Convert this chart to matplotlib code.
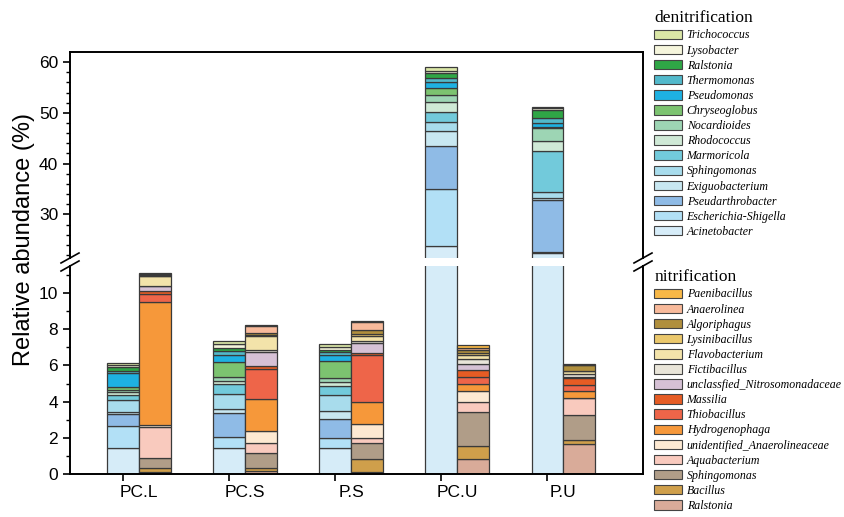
import numpy as np
import matplotlib
matplotlib.use('Agg')
import matplotlib.pyplot as plt
from matplotlib.patches import Patch

plt.rcParams['font.family'] = ['Liberation Sans', 'DejaVu Sans']

groups = ['PC.L', 'PC.S', 'P.S', 'PC.U', 'P.U']

# denitrification genera, bottom of the stack first
denit_names = ['Acinetobacter', 'Escherichia-Shigella', 'Pseudarthrobacter',
               'Exiguobacterium', 'Sphingomonas', 'Marmoricola', 'Rhodococcus',
               'Nocardioides', 'Chryseoglobus', 'Pseudomonas', 'Thermomonas',
               'Ralstonia', 'Lysobacter', 'Trichococcus']
denit_colors = ['#d6ecf8', '#b2e0f6', '#8fbbe6', '#c8e7f1', '#a8dcec', '#72cadb',
                '#cfe9d6', '#9dd5b4', '#7cc370', '#1eb1e2', '#52b9cb', '#2fa646',
                '#f5f5dc', '#dae6a6']
# one row per genus: PC.L, PC.S, P.S, PC.U, P.U
denit_values = [
    [1.42, 1.45, 1.45, 23.77, 22.3],
    [1.23, 0.61, 0.56, 11.18, 0.2],
    [0.66, 1.29, 1.03, 8.55, 10.4],
    [0.14, 0.24, 0.44, 3.0, 0.3],
    [0.64, 0.81, 0.88, 1.8, 1.2],
    [0.27, 0.55, 0.50, 1.84, 8.05],
    [0.17, 0.18, 0.22, 1.91, 2.05],
    [0.12, 0.21, 0.24, 1.55, 2.5],
    [0.17, 0.86, 0.92, 1.4, 0.3],
    [0.74, 0.37, 0.33, 1.0, 0.7],
    [0.12, 0.24, 0.15, 0.9, 0.9],
    [0.24, 0.14, 0.16, 0.87, 1.6],
    [0.10, 0.23, 0.15, 0.53, 0.4],
    [0.13, 0.17, 0.14, 0.77, 0.3],
]

# nitrification genera, bottom of the stack first
nitr_names = ['Ralstonia', 'Bacillus', 'Sphingomonas', 'Aquabacterium',
              'unidentified_Anaerolineaceae', 'Hydrogenophaga', 'Thiobacillus',
              'Massilia', 'unclassfied_Nitrosomonadaceae', 'Fictibacillus',
              'Flavobacterium', 'Lysinibacillus', 'Algoriphagus', 'Anaerolinea',
              'Paenibacillus']
nitr_colors = ['#d9ab99', '#cf9f4b', '#b09d88', '#f9cabe', '#fde9d2', '#f6983a',
               '#ee6549', '#e65c24', '#d6c1d5', '#e9e5d9', '#f3e3aa', '#ebc86c',
               '#b08f3d', '#f8ba9b', '#f8b847']
nitr_values = [
    [0.12, 0.15, 0.13, 0.81, 1.66],
    [0.20, 0.16, 0.70, 0.74, 0.22],
    [0.55, 0.83, 0.86, 1.86, 1.38],
    [1.75, 0.55, 0.28, 0.59, 0.92],
    [0.10, 0.70, 0.79, 0.59, 0.04],
    [6.78, 1.77, 1.20, 0.38, 0.38],
    [0.46, 1.67, 2.61, 0.41, 0.32],
    [0.15, 0.15, 0.13, 0.37, 0.37],
    [0.26, 0.78, 0.55, 0.31, 0.10],
    [0.05, 0.08, 0.10, 0.28, 0.12],
    [0.50, 0.80, 0.29, 0.23, 0.16],
    [0.05, 0.06, 0.10, 0.14, 0.05],
    [0.05, 0.07, 0.23, 0.14, 0.29],
    [0.04, 0.41, 0.43, 0.14, 0.03],
    [0.05, 0.05, 0.05, 0.14, 0.02],
]

x = np.arange(len(groups))
width = 0.30
edge = '#3a3a3a'


def draw_stacks(ax):
    # denitrification bar sits on the tick, nitrification bar just right of it
    bottom = np.zeros(len(groups))
    for vals, color in zip(denit_values, denit_colors):
        ax.bar(x, vals, width, bottom=bottom, color=color, edgecolor=edge, linewidth=0.9)
        bottom += np.array(vals)
    bottom = np.zeros(len(groups))
    for vals, color in zip(nitr_values, nitr_colors):
        ax.bar(x + width, vals, width, bottom=bottom, color=color, edgecolor=edge, linewidth=0.9)
        bottom += np.array(vals)


fig = plt.figure(figsize=(8.45, 5.17), dpi=100)
ax_hi = fig.add_axes([70 / 845, 259 / 517, 573 / 845, 206 / 517])
ax_lo = fig.add_axes([70 / 845, 43 / 517, 573 / 845, 208 / 517])

for ax in (ax_hi, ax_lo):
    draw_stacks(ax)
    ax.set_xlim(-0.5, 4.9)
    for s in ax.spines.values():
        s.set_linewidth(1.4)
    ax.tick_params(axis='y', which='major', direction='out', length=5, width=1.2, labelsize=12.5)
    ax.tick_params(axis='y', which='minor', direction='out', length=3, width=1.0)

ax_hi.set_ylim(21.4, 62)
ax_hi.set_yticks([30, 40, 50, 60])
ax_hi.set_yticks(np.arange(22, 62, 2), minor=True)
ax_hi.spines['bottom'].set_visible(False)
ax_hi.tick_params(axis='x', which='both', bottom=False, labelbottom=False)

ax_lo.set_ylim(0, 11.5)
ax_lo.set_yticks([0, 2, 4, 6, 8, 10])
ax_lo.set_yticks(np.arange(1, 12, 2), minor=True)
ax_lo.spines['top'].set_visible(False)
# tick marks under the denitrification bars, names centred on the pair
ax_lo.set_xticks(x)
ax_lo.set_xticklabels([])
ax_lo.set_xticks(x + width / 2, minor=True)
ax_lo.set_xticklabels(groups, minor=True)
ax_lo.tick_params(axis='x', which='major', direction='out', length=5, width=1.2)
ax_lo.tick_params(axis='x', which='minor', length=0, labelsize=12.5, pad=8)

fig.text(0.028, 1 - 240 / 517, 'Relative abundance (%)', rotation=90, va='center', ha='center', fontsize=17)

# break marks on both spines
dx, dy = 9 / 573, 5 / 206
kw = dict(color='k', clip_on=False, linewidth=1.2)
for xs in (0, 1):
    ax_hi.plot((xs - dx, xs + dx), (-dy, dy), transform=ax_hi.transAxes, **kw)
    ax_lo.plot((xs - dx, xs + dx), (1 - dy, 1 + dy), transform=ax_lo.transAxes, **kw)

# legends, top entry = top of the stack
leg_font = {'family': 'Liberation Serif', 'style': 'italic', 'size': 8.6}
title_font = {'family': 'Liberation Serif', 'size': 12.5}
leg_kw = dict(loc='upper left', frameon=False, prop=leg_font, title_fontproperties=title_font,
              alignment='left', handlelength=2.3, handleheight=0.85, handletextpad=0.4,
              labelspacing=0.26, borderaxespad=0, borderpad=0.2)

h1 = [Patch(facecolor=c, edgecolor='#444444', linewidth=0.8) for c in denit_colors[::-1]]
fig.legend(h1, denit_names[::-1], bbox_to_anchor=(652 / 845, 1 - 8 / 517),
           title='denitrification', **leg_kw)

h2 = [Patch(facecolor=c, edgecolor='#444444', linewidth=0.8) for c in nitr_colors[::-1]]
fig.legend(h2, nitr_names[::-1], bbox_to_anchor=(652 / 845, 1 - 267 / 517),
           title='nitrification', **leg_kw)

fig.savefig('out.png', dpi=100)
